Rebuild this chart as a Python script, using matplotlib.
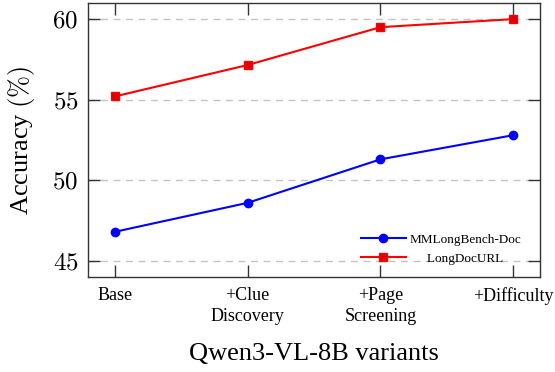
import matplotlib
matplotlib.use("Agg")
import matplotlib.pyplot as plt

# data
variants = ["Base", "+Clue\nDiscovery", "+Page\nScreening", "+Difficulty"]
mmlongbench = [46.8, 48.6, 51.3, 52.8]
longdocurl = [55.2, 57.15, 59.5, 60.0]
y_ticks = [45, 50, 55, 60]

plt.rcParams["font.family"] = ["Liberation Serif", "DejaVu Serif"]
plt.rcParams["mathtext.fontset"] = "cm"

fig = plt.figure(figsize=(5.55, 3.72), dpi=100)
ax = fig.add_axes([0.1586, 0.2554, 0.8144, 0.7366])

x = list(range(len(variants)))
ax.plot(x, mmlongbench, color="#0000ff", lw=1.5, marker="o", ms=6,
        label="MMLongBench-Doc")
ax.plot(x, longdocurl, color="#ff0000", lw=1.5, marker="s", ms=5.5,
        mfc="#dd0000", mec="#ff0000", label="     LongDocURL")

ax.set_xlim(-0.2, 3.2)
ax.set_ylim(44.0, 61.0)
ax.set_xticks(x)
ax.set_xticklabels(variants, fontsize=13, linespacing=1.35)
ax.set_yticks(y_ticks)
ax.set_yticklabels([f"${v}$" for v in y_ticks], fontsize=18)

ax.yaxis.grid(True, ls=(0, (5, 4)), color="#c4c4c4", lw=1)
ax.set_axisbelow(True)
ax.tick_params(direction="in", length=8.5, width=1, top=True, right=True,
               color="#333333")
ax.tick_params(axis="x", pad=7)
ax.tick_params(axis="y", pad=7)
for s in ax.spines.values():
    s.set_color("#333333")
    s.set_linewidth(1)

ax.set_xlabel("Qwen3-VL-8B variants", fontsize=19, labelpad=13)
ax.set_ylabel(r"Accuracy $(\%)$", fontsize=19, labelpad=11)

ax.legend(loc="lower right", frameon=False, fontsize=9.5,
          bbox_to_anchor=(0.985, 0.0), handlelength=3.4,
          handletextpad=0.3, labelspacing=0.55)

fig.savefig("out.png", dpi=100)
